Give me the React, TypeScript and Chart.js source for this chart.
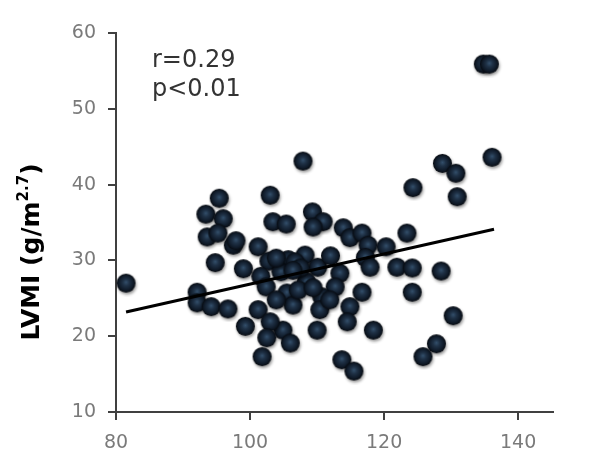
import React, { useEffect, useRef } from "react";
import { Chart, registerables } from "chart.js";

Chart.register(...registerables);

// Systolic blood pressure (mmHg) vs LVMI (g/m^2.7), one entry per subject
const sbp = [
  81.5, 92.1, 92.1, 94.2, 96.7, 99.3, 93.4, 95.4, 96.0, 93.6,
  95.2, 97.5, 97.9, 94.8, 99.0, 101.2, 102.8, 105.7, 101.6, 102.4,
  104.6, 103.0, 103.4, 105.4, 107.9, 109.3, 110.9, 113.9, 114.9, 116.7,
  117.6, 120.3, 123.4, 108.2, 110.1, 113.4, 117.2, 117.9, 121.9, 124.2,
  128.5, 108.4, 112.7, 105.5, 110.7, 116.7, 124.2, 106.4, 110.4, 114.9,
  114.5, 110.0, 104.9, 106.0, 118.4, 113.7, 115.5, 101.2, 103.0, 102.5,
  101.8, 130.3, 127.8, 125.8, 128.7, 130.7, 136.1, 124.3, 130.9, 134.8,
  135.7, 109.4, 103.9, 106.7, 107.5, 106.4, 107.2, 109.4, 111.9, 103.9,
  112.0,
];
const lvmi = [
  27.0, 25.8, 24.4, 23.9, 23.6, 21.3, 36.1, 38.2, 35.5, 33.1,
  33.6, 32.0, 32.6, 29.7, 28.9, 31.8, 29.9, 30.1, 27.9, 26.5,
  28.5, 38.6, 35.1, 34.8, 43.1, 36.4, 35.1, 34.3, 33.0, 33.6,
  32.0, 31.8, 33.6, 30.7, 29.1, 28.3, 30.4, 29.1, 29.1, 29.0,
  28.6, 27.2, 26.5, 25.7, 25.2, 25.8, 25.8, 24.1, 23.5, 23.9,
  21.9, 20.8, 20.8, 19.1, 20.8, 16.9, 15.4, 23.5, 21.9, 19.8,
  17.3, 22.7, 19.0, 17.3, 42.8, 41.5, 43.6, 39.6, 38.4, 55.9,
  55.9, 34.4, 30.3, 29.8, 29.0, 28.7, 26.1, 26.4, 24.8, 24.8,
  30.6,
];

// Least-squares fit line end points
const fitX = [81.5, 136.4];
const fitY = [23.2, 34.1];

const xTicks = [80, 100, 120, 140];
const yTicks = [10, 20, 30, 40, 50, 60];

const statLines = ["r=0.29", "p<0.01"];

function makeBall(r: number): HTMLCanvasElement {
  const pad = 4;
  const size = Math.ceil(2 * (r + pad));
  const c = document.createElement("canvas");
  c.width = size;
  c.height = size;
  const ctx = c.getContext("2d")!;
  const cx = size / 2;
  const cy = size / 2;
  ctx.save();
  ctx.shadowColor = "rgba(0,0,0,0.4)";
  ctx.shadowBlur = 3;
  ctx.shadowOffsetX = 1;
  ctx.shadowOffsetY = 2;
  const g = ctx.createRadialGradient(cx, cy - 1, 0, cx, cy, r);
  g.addColorStop(0, "#34506c");
  g.addColorStop(0.35, "#1f3146");
  g.addColorStop(0.75, "#101b29");
  g.addColorStop(1, "#060a10");
  ctx.fillStyle = g;
  ctx.beginPath();
  ctx.arc(cx, cy, r, 0, Math.PI * 2);
  ctx.fill();
  ctx.restore();
  return c;
}

const textPlugin = {
  id: "textOverlay",
  afterDraw(chart: any) {
    const ctx = chart.ctx as CanvasRenderingContext2D;
    ctx.save();
    // stats annotation
    ctx.fillStyle = "#333333";
    ctx.font = "24px 'DejaVu Sans', Verdana, sans-serif";
    ctx.textAlign = "left";
    ctx.textBaseline = "alphabetic";
    ctx.fillText(statLines[0], 152, 67);
    ctx.fillText(statLines[1], 152, 96);

    // y-axis title with superscript exponent
    const main = "LVMI (g/m";
    const sup = "2.7";
    const tail = ")";
    const mainFont = "bold 25px 'DejaVu Sans', Verdana, sans-serif";
    const supFont = "bold 15px 'DejaVu Sans', Verdana, sans-serif";
    ctx.font = mainFont;
    const wMain = ctx.measureText(main).width;
    const wTail = ctx.measureText(tail).width;
    ctx.font = supFont;
    const wSup = ctx.measureText(sup).width;
    const total = wMain + wSup + wTail;
    ctx.translate(39, 252);
    ctx.rotate(-Math.PI / 2);
    ctx.fillStyle = "#000000";
    let x = -total / 2;
    ctx.font = mainFont;
    ctx.fillText(main, x, 0);
    x += wMain;
    ctx.font = supFont;
    ctx.fillText(sup, x, -11);
    x += wSup;
    ctx.font = mainFont;
    ctx.fillText(tail, x, 0);
    ctx.restore();
  },
};

export default function App() {
  const ref = useRef<HTMLCanvasElement | null>(null);

  useEffect(() => {
    if (!ref.current) return;
    const ball = makeBall(9.5);
    const points = sbp.map((v, i) => ({ x: v, y: lvmi[i] }));
    const fit = fitX.map((v, i) => ({ x: v, y: fitY[i] }));
    const axisColor = "#404040";
    const tickFont = { family: "'DejaVu Sans', Verdana, sans-serif", size: 19 };

    const chart = new Chart(ref.current, {
      type: "scatter",
      data: {
        datasets: [
          {
            data: fit,
            showLine: true,
            borderColor: "#000000",
            borderWidth: 3,
            pointRadius: 0,
            order: 0,
          },
          {
            data: points,
            pointStyle: ball as any,
            pointRadius: 10,
            order: 1,
          },
        ],
      },
      options: {
        responsive: false,
        animation: false,
        layout: { padding: { top: 33, right: 41, left: 0, bottom: 0 } },
        plugins: {
          legend: { display: false },
          tooltip: { enabled: false },
        },
        scales: {
          x: {
            type: "linear",
            min: 80,
            max: 145.2,
            afterBuildTicks: (s: any) => {
              s.ticks = xTicks.map((v) => ({ value: v }));
            },
            afterFit: (s: any) => {
              s.height = 60;
            },
            grid: {
              drawOnChartArea: false,
              drawTicks: true,
              tickLength: 8,
              color: axisColor,
              lineWidth: 2,
            },
            border: { display: true, color: axisColor, width: 2 },
            ticks: { color: "#7a7a7a", font: tickFont, padding: 12 },
          },
          y: {
            type: "linear",
            min: 10,
            max: 60,
            afterBuildTicks: (s: any) => {
              s.ticks = yTicks.map((v) => ({ value: v }));
            },
            afterFit: (s: any) => {
              s.width = 116;
            },
            grid: {
              drawOnChartArea: false,
              drawTicks: true,
              tickLength: 8,
              color: axisColor,
              lineWidth: 2,
            },
            border: { display: true, color: axisColor, width: 2 },
            ticks: { color: "#7a7a7a", font: tickFont, padding: 12 },
          },
        },
      },
      plugins: [textPlugin],
    });
    return () => chart.destroy();
  }, []);

  return (
    <div style={{ position: "absolute", left: 0, top: 0, width: 594, height: 472, background: "#ffffff" }}>
      <canvas ref={ref} width={594} height={472} style={{ display: "block" }} />
    </div>
  );
}
